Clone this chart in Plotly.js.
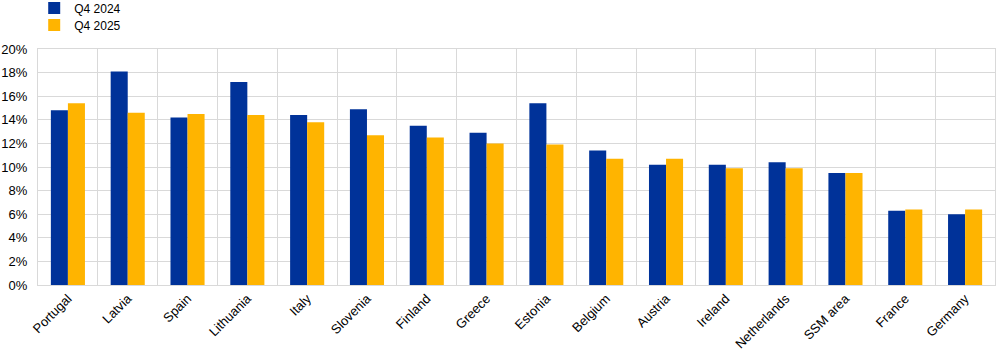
<!DOCTYPE html>
<html>
<head>
<meta charset="utf-8">
<script src="https://cdn.plot.ly/plotly-3.0.1.min.js"></script>
<style>html,body{margin:0;padding:0;background:#fff}#chart{width:1006px;height:356px}</style>
</head>
<body>
<div id="chart"></div>
<script>
const categories = ["Portugal","Latvia","Spain","Lithuania","Italy","Slovenia","Finland","Greece","Estonia","Belgium","Austria","Ireland","Netherlands","SSM area","France","Germany"];
const q4_2024 = [14.8,18.1,14.2,17.2,14.4,14.9,13.5,12.9,15.4,11.4,10.2,10.2,10.4,9.5,6.3,6.0];
const q4_2025 = [15.4,14.6,14.5,14.4,13.8,12.7,12.5,12.0,11.9,10.7,10.7,9.9,9.9,9.5,6.4,6.4];
const seriesNames = ["Q4 2024","Q4 2025"];
const yTicks = [0,2,4,6,8,10,12,14,16,18,20];

const fam = "Liberation Sans, Arial, sans-serif";
const tickFont = {family: fam, size: 13, color: "#000"};
const legFont = {family: fam, size: 12, color: "#000"};
const data = [
  {type: "bar", name: seriesNames[0], x: categories, y: q4_2024, marker: {color: "#003299"}, legend: "legend"},
  {type: "bar", name: seriesNames[1], x: categories, y: q4_2025, marker: {color: "#FFB400"}, legend: "legend2"}
];
const legBase = {xref: "container", yref: "container", x: 0.034, xanchor: "left", yanchor: "middle",
                 orientation: "v", font: legFont, itemwidth: 30, bgcolor: "rgba(0,0,0,0)"};
const layout = {
  width: 1006, height: 356,
  margin: {l: 38, r: 11, t: 49, b: 71, autoexpand: false},
  font: tickFont,
  paper_bgcolor: "#fff", plot_bgcolor: "#fff",
  barmode: "group", bargap: 0.43, bargroupgap: 0,
  showlegend: true,
  legend: Object.assign({}, legBase, {y: 1 - 8/356}),
  legend2: Object.assign({}, legBase, {y: 1 - 25/356}),
  xaxis: {type: "category", tickson: "boundaries", showgrid: true, gridcolor: "#d9d9d9", gridwidth: 1,
          ticks: "", tickangle: -45, tickfont: tickFont, showline: true, linecolor: "#d9d9d9", mirror: true,
          automargin: false},
  yaxis: {range: [0, 20], tickvals: yTicks, ticktext: yTicks.map(v => v + "%"), showgrid: true,
          gridcolor: "#d9d9d9", gridwidth: 1, zeroline: true, zerolinecolor: "#d9d9d9", ticks: "",
          ticklabelstandoff: 7, tickfont: tickFont, showline: true, linecolor: "#d9d9d9", mirror: true,
          automargin: false}
};
Plotly.newPlot("chart", data, layout, {displayModeBar: false, staticPlot: true});
</script>
</body>
</html>
